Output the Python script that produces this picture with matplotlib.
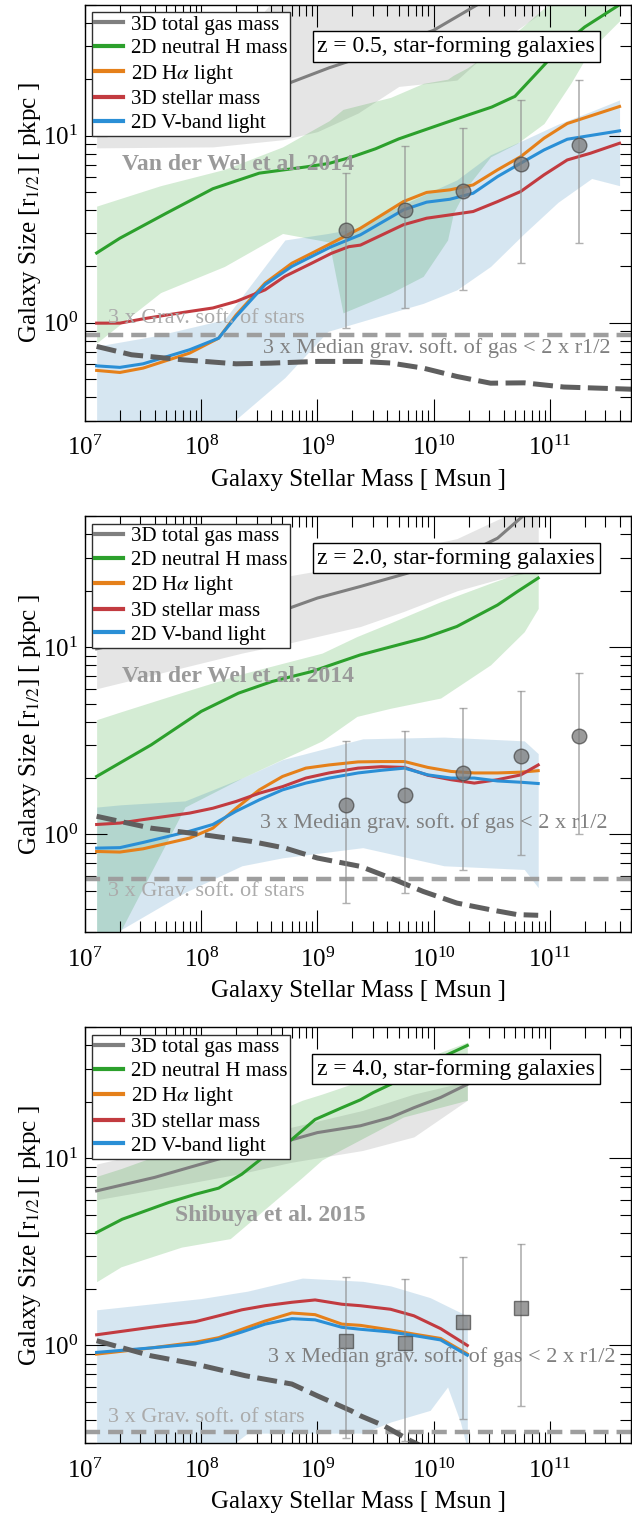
import numpy as np
import matplotlib.pyplot as plt

plt.rcParams['font.family'] = ['Liberation Serif', 'DejaVu Serif']
plt.rcParams['mathtext.fontset'] = 'stix'

# ---------------- data: log10(M*/Msun) and sizes in pkpc ----------------
# z = 0.5
z05_gas_m = [7.1, 7.7, 8.3, 8.75, 9.1, 9.4, 10.0, 10.4, 10.8]
z05_gas_r = [11.5, 13.0, 15.5, 19.0, 23.0, 26.5, 36.5, 51.0, 65.0]
z05_gasb_m = [7.1, 8.1, 8.7, 9.0, 9.35, 9.7, 9.95, 10.2, 10.55, 10.9]
z05_gasb_lo = [8.6, 8.7, 9.5, 10.5, 13.2, 18.3, 19.0, 19.8, 31.0, 44.0]
z05_gasb_hi = [18, 22, 60, 70, 80, 90, 100, 110, 120, 130]
z05_hi_m = [7.1, 7.3, 7.7, 8.1, 8.5, 8.9, 9.1, 9.3, 9.5, 9.7, 9.9, 10.1, 10.3,
            10.5, 10.7, 10.9, 11.1, 11.3, 11.6]
z05_hi_r = [2.36, 2.83, 3.85, 5.2, 6.3, 6.8, 7.1, 7.7, 8.5, 9.6, 10.6, 11.7, 12.9,
            14.2, 16.2, 22.0, 30.0, 38.0, 50.0]
z05_hib_m = [7.1, 7.65, 8.2, 8.7, 9.1, 9.22, 9.63, 9.91, 10.12, 10.17, 10.29,
             10.49, 10.72, 10.95, 11.18, 11.35, 11.6]
z05_hib_lo = [0.78, 1.45, 2.0, 3.0, 2.7, 1.13, 1.44, 1.77, 2.77, 3.85, 5.35,
              7.7, 9.1, 11.6, 19.0, 28.7, 41.0]
z05_hib_hi = [4.2, 5.4, 6.6, 8.7, 12.0, 13.8, 16.0, 19.0, 20.0, 21.0, 23.0,
              28.0, 36.0, 48.0, 60.0, 75.0, 95.0]
z05_vb_m = [7.1, 7.6, 8.2, 8.72, 9.09, 9.34, 9.63, 9.91, 10.2, 10.49, 10.78,
            11.07, 11.36, 11.6]
z05_vb_lo = [0.2, 0.22, 0.27, 0.51, 0.9, 1.0, 1.13, 1.27, 1.5, 2.0, 3.0, 4.4, 5.9, 5.4]
z05_vb_hi = [0.75, 0.85, 1.04, 2.77, 3.0, 3.2, 4.0, 4.8, 5.8, 7.9, 9.5, 11.5, 13.5, 15.5]
z05_m = [7.1, 7.3, 7.5, 7.9, 8.15, 8.3, 8.55, 8.78, 8.95, 9.12, 9.37, 9.74,
         9.94, 10.14, 10.34, 10.55, 10.75, 10.95, 11.15, 11.6]
z05_ha_r = [0.557, 0.543, 0.573, 0.689, 0.828, 1.10, 1.63, 2.08, 2.35, 2.66, 3.2,
            4.44, 4.97, 5.13, 5.45, 6.56, 7.72, 9.68, 11.6, 14.3]
z05_v_r = [0.589, 0.578, 0.604, 0.718, 0.828, 1.08, 1.6, 2.0, 2.26, 2.55, 2.95,
           4.01, 4.41, 4.57, 4.92, 6.04, 7.12, 8.38, 9.56, 10.6]
z05_st_m = [7.1, 7.3, 7.5, 7.7, 7.9, 8.1, 8.3, 8.55, 8.72, 8.95, 9.12, 9.27, 9.37,
            9.74, 9.94, 10.14, 10.34, 10.55, 10.75, 10.95, 11.15, 11.35, 11.6]
z05_st_r = [0.996, 0.996, 1.05, 1.10, 1.15, 1.2, 1.3, 1.5, 1.77, 2.08, 2.35, 2.55,
            2.6, 3.34, 3.62, 3.77, 3.93, 4.44, 5.03, 6.17, 7.41, 8.05, 9.1]
z05_soft_m = [7.1, 7.4, 7.85, 8.3, 8.6, 9.0, 9.37, 9.63, 9.91, 10.2, 10.49, 10.78,
              11.12, 11.7]
z05_soft_r = [0.748, 0.675, 0.634, 0.604, 0.609, 0.622, 0.622, 0.61, 0.573, 0.517,
              0.476, 0.478, 0.454, 0.442]
z05_obs_m = [9.25, 9.75, 10.25, 10.75, 11.25]
z05_obs_r = [3.14, 4.01, 5.03, 7.06, 8.9]
z05_obs_hi = [6.3, 8.8, 11.0, 15.5, 19.7]
z05_obs_lo = [0.94, 1.2, 1.5, 2.08, 2.66]

# z = 2.0
z2_gas_m = [7.1, 7.6, 8.1, 8.75, 9.0, 9.37, 9.77, 10.2, 10.55, 10.78, 10.9]
z2_gas_r = [9.8, 11.5, 13.5, 16.1, 18.3, 21.1, 24.8, 29.9, 38.2, 50.9, 58.0]
z2_gasb_m = [7.1, 8.35, 8.75, 9.37, 9.74, 10.2, 10.55, 10.9]
z2_gasb_lo = [6.0, 9.3, 10.5, 12.9, 15.5, 20.0, 23.0, 25.8]
z2_gasb_hi = [16.0, 20.0, 24.0, 28.0, 33.0, 38.0, 48.0, 60.0]
z2_hi_m = [7.1, 7.57, 8.0, 8.32, 8.61, 8.95, 9.37, 9.92, 10.2, 10.55, 10.72, 10.9]
z2_hi_r = [2.04, 3.01, 4.54, 5.68, 6.56, 7.41, 9.1, 11.2, 12.9, 16.8, 19.8, 23.4]
z2_hib_m = [7.1, 7.3, 7.86, 8.35, 9.04, 9.34, 9.63, 10.06, 10.49, 10.78, 10.9]
z2_hib_lo = [0.25, 0.3, 1.4, 2.0, 3.16, 4.27, 4.72, 5.35, 8.05, 12.1, 16.1]
z2_hib_hi = [4.1, 4.5, 5.8, 7.2, 9.3, 11.4, 13.5, 17.5, 22.0, 25.5, 27.0]
z2_vb_m = [7.1, 7.31, 7.86, 8.35, 8.7, 9.39, 10.09, 10.78, 10.9]
z2_vb_lo = [0.2, 0.31, 0.49, 0.68, 0.75, 0.85, 0.68, 0.65, 0.52]
z2_vb_hi = [1.40, 1.44, 1.51, 2.0, 2.51, 3.24, 3.31, 3.16, 2.7]
z2_m = [7.1, 7.3, 7.5, 7.9, 8.1, 8.3, 8.5, 8.7, 8.9, 9.1, 9.35, 9.55, 9.75,
        9.95, 10.15, 10.35, 10.55, 10.75, 10.9]
z2_ha_r = [0.811, 0.805, 0.838, 0.956, 1.08, 1.38, 1.73, 2.04, 2.26, 2.35, 2.44,
           2.45, 2.45, 2.28, 2.17, 2.13, 2.13, 2.15, 2.19]
z2_st_r = [1.13, 1.15, 1.2, 1.3, 1.38, 1.5, 1.66, 1.8, 2.0, 2.13, 2.26, 2.3, 2.28,
           2.07, 1.96, 1.88, 1.96, 2.08, 2.35]
z2_v_r = [0.845, 0.85, 0.906, 1.04, 1.13, 1.33, 1.53, 1.73, 1.88, 2.0, 2.13, 2.2,
          2.26, 2.08, 2.0, 2.0, 1.93, 1.90, 1.87]
z2_soft_m = [7.1, 7.57, 8.0, 8.43, 8.72, 9.0, 9.37, 9.63, 9.91, 10.2, 10.49, 10.72, 10.9]
z2_soft_r = [1.25, 1.08, 1.0, 0.918, 0.846, 0.748, 0.675, 0.585, 0.496, 0.43, 0.396,
             0.373, 0.37]
z2_obs_m = [9.25, 9.75, 10.25, 10.75, 11.25]
z2_obs_r = [1.44, 1.62, 2.13, 2.61, 3.34]
z2_obs_hi = [3.14, 3.55, 4.72, 5.8, 7.3]
z2_obs_lo = [0.43, 0.486, 0.648, 0.778, 1.0]

# z = 4.0
z4_gas_m = [7.1, 7.6, 8.15, 8.75, 9.0, 9.37, 9.63, 9.83, 10.06, 10.29]
z4_gas_r = [6.69, 7.9, 9.9, 12.4, 13.7, 14.9, 16.5, 18.6, 21.1, 24.8]
z4_gasb_m = [7.1, 7.6, 8.35, 8.77, 9.39, 9.83, 10.29]
z4_gasb_lo = [6.0, 6.8, 8.3, 9.5, 11.0, 13.0, 20.4]
z4_gasb_hi = [9.3, 11.0, 13.0, 14.6, 18.0, 22.0, 25.7]
z4_hi_m = [7.1, 7.32, 7.72, 7.95, 8.15, 8.35, 8.55, 8.78, 8.98, 9.21, 9.37, 9.48,
           9.63, 10.0, 10.29]
z4_hi_r = [4.01, 4.72, 5.8, 6.42, 6.92, 8.22, 10.3, 12.6, 16.1, 18.6, 20.5, 22.4,
           24.8, 33.0, 40.0]
z4_hib_m = [7.1, 7.31, 7.83, 8.25, 8.87, 9.04, 9.74, 10.29]
z4_hib_lo = [2.19, 2.63, 3.35, 3.72, 7.9, 9.8, 16.6, 20.4]
z4_hib_hi = [8.0, 8.8, 11.5, 14.0, 20.4, 22.0, 30.9, 41.7]
z4_vb_m = [7.1, 8.0, 8.4, 8.87, 9.39, 9.63, 9.97, 10.12, 10.23, 10.29]
z4_vb_lo = [0.2, 0.22, 0.34, 0.34, 0.34, 0.39, 0.45, 0.6, 0.39, 0.28]
z4_vb_hi = [1.55, 1.78, 1.95, 2.29, 2.2, 2.08, 1.8, 1.62, 1.5, 1.44]
z4_m = [7.1, 7.57, 7.95, 8.15, 8.35, 8.55, 8.78, 8.98, 9.21, 9.37, 9.63, 9.83,
        10.06, 10.29]
z4_ha_r = [0.899, 0.97, 1.04, 1.10, 1.22, 1.35, 1.49, 1.46, 1.3, 1.28, 1.21, 1.15,
           1.09, 0.9]
z4_st_r = [1.14, 1.25, 1.34, 1.44, 1.55, 1.63, 1.70, 1.75, 1.66, 1.63, 1.56, 1.44,
           1.23, 1.0]
z4_v_r = [0.918, 0.97, 1.02, 1.08, 1.18, 1.3, 1.39, 1.37, 1.25, 1.22, 1.18, 1.13,
          1.07, 0.887]
z4_soft_m = [7.1, 7.57, 7.95, 8.38, 8.78, 9.0, 9.29, 9.37, 9.57, 9.8, 10.0]
z4_soft_r = [1.06, 0.88, 0.795, 0.689, 0.622, 0.538, 0.448, 0.421, 0.373, 0.31, 0.27]
z4_obs_m = [9.25, 9.75, 10.25, 10.75]
z4_obs_r = [1.06, 1.03, 1.34, 1.58]
z4_obs_hi = [2.31, 2.26, 2.95, 3.47]
z4_obs_lo = [0.32, 0.31, 0.404, 0.476]

star_soft = [0.864, 0.576, 0.3456]
redshifts = ['0.5', '2.0', '4.0']
obs_names = ['Van der Wel et al. 2014', 'Van der Wel et al. 2014', 'Shibuya et al. 2015']

c_gas = '#7f7f7f'
c_hi = '#2ca02c'
c_ha = '#e5801a'
c_st = '#c23b40'
c_v = '#2a8fd6'


def m(x):
    return 10.0 ** np.asarray(x)


panels = [
    dict(gas=(z05_gas_m, z05_gas_r), gasb=(z05_gasb_m, z05_gasb_lo, z05_gasb_hi),
         hi=(z05_hi_m, z05_hi_r), hib=(z05_hib_m, z05_hib_lo, z05_hib_hi),
         vb=(z05_vb_m, z05_vb_lo, z05_vb_hi), ha=(z05_m, z05_ha_r),
         st=(z05_st_m, z05_st_r), v=(z05_m, z05_v_r), soft=(z05_soft_m, z05_soft_r),
         obs=(z05_obs_m, z05_obs_r, z05_obs_lo, z05_obs_hi), marker='o',
         obs_txt=(7.316, 6.97), star_txt=(7.2, 1.06), gas_txt=(8.53, 0.733)),
    dict(gas=(z2_gas_m, z2_gas_r), gasb=(z2_gasb_m, z2_gasb_lo, z2_gasb_hi),
         hi=(z2_hi_m, z2_hi_r), hib=(z2_hib_m, z2_hib_lo, z2_hib_hi),
         vb=(z2_vb_m, z2_vb_lo, z2_vb_hi), ha=(z2_m, z2_ha_r),
         st=(z2_m, z2_st_r), v=(z2_m, z2_v_r), soft=(z2_soft_m, z2_soft_r),
         obs=(z2_obs_m, z2_obs_r, z2_obs_lo, z2_obs_hi), marker='o',
         obs_txt=(7.316, 6.97), star_txt=(7.2, 0.496), gas_txt=(8.51, 1.15)),
    dict(gas=(z4_gas_m, z4_gas_r), gasb=(z4_gasb_m, z4_gasb_lo, z4_gasb_hi),
         hi=(z4_hi_m, z4_hi_r), hib=(z4_hib_m, z4_hib_lo, z4_hib_hi),
         vb=(z4_vb_m, z4_vb_lo, z4_vb_hi), ha=(z4_m, z4_ha_r),
         st=(z4_m, z4_st_r), v=(z4_m, z4_v_r), soft=(z4_soft_m, z4_soft_r),
         obs=(z4_obs_m, z4_obs_r, z4_obs_lo, z4_obs_hi), marker='s',
         obs_txt=(7.775, 4.92), star_txt=(7.2, 0.413), gas_txt=(8.575, 0.863)),
]

fig = plt.figure(figsize=(6.32, 15.15), dpi=100)
bottoms = [0.7223, 0.3846, 0.0473]

for i, p in enumerate(panels):
    ax = fig.add_axes([0.1345, bottoms[i], 0.864, 0.2746])
    ax.set_xscale('log')
    ax.set_yscale('log')

    # scatter bands
    ax.fill_between(m(p['gasb'][0]), p['gasb'][1], p['gasb'][2], color=c_gas, alpha=0.2, lw=0)
    ax.fill_between(m(p['hib'][0]), p['hib'][1], p['hib'][2], color=c_hi, alpha=0.2, lw=0)
    ax.fill_between(m(p['vb'][0]), p['vb'][1], p['vb'][2], color='#1f77b4', alpha=0.18, lw=0)

    # median relations
    ax.plot(m(p['gas'][0]), p['gas'][1], color=c_gas, lw=2.2, label='3D total gas mass')
    ax.plot(m(p['hi'][0]), p['hi'][1], color=c_hi, lw=2.2, label='2D neutral H mass')
    ax.plot(m(p['ha'][0]), p['ha'][1], color=c_ha, lw=2.2, label=r'2D H$\alpha$ light')
    ax.plot(m(p['st'][0]), p['st'][1], color=c_st, lw=2.2, label='3D stellar mass')
    ax.plot(m(p['v'][0]), p['v'][1], color=c_v, lw=2.2, label='2D V-band light')

    # softening lengths
    ax.axhline(star_soft[i], color='#9e9e9e', lw=3.2, dashes=[3.4, 1.8])
    ax.plot(m(p['soft'][0]), p['soft'][1], color='#5f5f5f', lw=3.6, dashes=[4, 1.5])

    # observations
    om, orr, olo, ohi = p['obs']
    orr = np.asarray(orr)
    yerr = [orr - np.asarray(olo), np.asarray(ohi) - orr]
    ax.errorbar(m(om), orr, yerr=yerr, fmt='none', ecolor='#909090', alpha=0.7,
                elinewidth=1.2, capsize=3, capthick=1.0)
    ax.plot(m(om), orr, p['marker'], ms=10.5 if p['marker'] == 'o' else 9.5,
            mfc='#7a7a7a', mec='#4a4a4a', mew=1.0, alpha=0.75, ls='none')

    # annotations
    ax.text(10 ** p['obs_txt'][0], p['obs_txt'][1], obs_names[i], fontsize=17,
            fontweight='bold', color='#9a9a9a', ha='left', va='center')
    ax.text(10 ** p['star_txt'][0], p['star_txt'][1], '3 x Grav. soft. of stars',
            fontsize=16, color='#ababab', ha='left', va='center')
    ax.text(10 ** p['gas_txt'][0], p['gas_txt'][1],
            '3 x Median grav. soft. of gas < 2 x r1/2', fontsize=16,
            color='#808080', ha='left', va='center')
    ax.text(0.934, 0.925, 'z = %s, star-forming galaxies' % redshifts[i],
            transform=ax.transAxes, ha='right', va='top', fontsize=17,
            bbox=dict(boxstyle='square,pad=0.2', fc='white', ec='black', lw=1.0))

    leg = ax.legend(loc='upper left', fontsize=15, fancybox=False, framealpha=1,
                    edgecolor='#303030', borderpad=0.15, labelspacing=0.2,
                    handlelength=1.3, handletextpad=0.4, borderaxespad=0.35)
    leg.get_frame().set_linewidth(1.0)
    for h in leg.get_lines():
        h.set_linewidth(3.0)

    ax.set_xlim(1e7, 5e11)
    ax.set_ylim(0.3, 50)
    ax.tick_params(which='both', direction='in', top=True, right=True, labelsize=18)
    ax.tick_params(which='major', length=16, width=0.8)
    ax.tick_params(which='minor', length=8, width=0.8)
    ax.tick_params(axis='x', which='major', pad=11)
    ax.tick_params(axis='y', which='major', pad=5)
    for s in ax.spines.values():
        s.set_linewidth(1.0)
    ax.set_xlabel('Galaxy Stellar Mass [ Msun ]', fontsize=18, labelpad=6)
    ax.set_ylabel(r'Galaxy Size [r$_{1/2}$] [ pkpc ]', fontsize=18, labelpad=0)

fig.savefig('out.png', dpi=100)
